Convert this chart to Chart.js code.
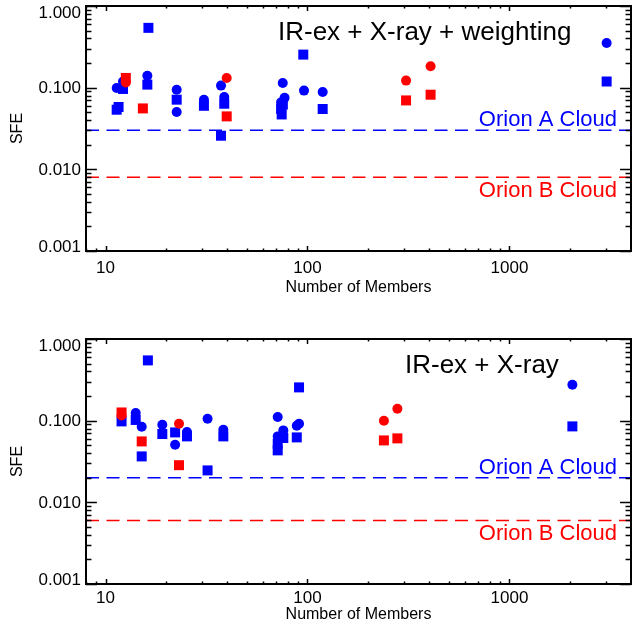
<!DOCTYPE html>
<html>
<head>
<meta charset="utf-8">
<script src="https://cdn.jsdelivr.net/npm/chart.js@4.4.0/dist/chart.umd.min.js"></script>
<style>
  html, body { margin: 0; padding: 0; background: #fff; overflow: hidden; }
  body { width: 632px; height: 627px; position: relative; }
  canvas { position: absolute; left: 0; }
  #top-chart { top: 0; }
  #bottom-chart { top: 333px; }
</style>
</head>
<body>
<canvas id="top-chart" width="632" height="300"></canvas>
<canvas id="bottom-chart" width="632" height="300"></canvas>
<script>
const blue = '#0000ff';
const red = '#ff0000';
const fontFamily = '"Liberation Sans", Arial, Helvetica, sans-serif';

// shared axes
const xRange = [8, 4000];
const yRange = [0.001, 1];
const xTicks = [10, 100, 1000];
const yTicks = [0.001, 0.01, 0.1, 1];

// top panel: IR-ex + X-ray + weighting
const topBlueCircN   = [11.35, 12.2, 16.1, 22.5, 22.5, 30.7, 37.3, 38.7, 75.4, 77, 74, 96.1, 118.9, 3030];
const topBlueCircSFE = [0.099, 0.119, 0.140, 0.0945, 0.0503, 0.0713, 0.106, 0.0769, 0.114, 0.075, 0.066, 0.092, 0.0886, 0.353];
const topBlueSqN     = [16.3, 12.2, 11.35, 11.6, 16.1, 22.5, 30.7, 38.7, 37.3, 75.5, 74, 74.5, 95.3, 118.9, 3030];
const topBlueSqSFE   = [0.540, 0.0964, 0.0537, 0.058, 0.109, 0.0713, 0.060, 0.0636, 0.0258, 0.062, 0.055, 0.047, 0.254, 0.0548, 0.119];
const topRedCircN    = [12.6, 39.8, 307.7, 407];
const topRedCircSFE  = [0.116, 0.1315, 0.122, 0.183];
const topRedSqN      = [12.6, 15.3, 39.8, 307.7, 407];
const topRedSqSFE    = [0.1315, 0.0557, 0.0445, 0.0698, 0.082];
const topOrionA = 0.03;
const topOrionB = 0.008;

// bottom panel: IR-ex + X-ray
const botBlueCircN   = [14.1, 15.1, 19.1, 22.1, 25.3, 32.0, 38.3, 71.2, 75.9, 71.2, 90.8, 88.5, 2050];
const botBlueCircSFE = [0.124, 0.0844, 0.0893, 0.0508, 0.0727, 0.1057, 0.0776, 0.111, 0.076, 0.0642, 0.0918, 0.0865, 0.2757];
const botBlueSqN     = [16.2, 12.0, 14.1, 15.1, 19.1, 22.1, 25.3, 32.0, 38.3, 75.9, 71.2, 71.2, 90.8, 88.5, 2050];
const botBlueSqSFE   = [0.547, 0.098, 0.102, 0.0365, 0.0687, 0.0718, 0.0642, 0.0246, 0.0642, 0.0613, 0.0522, 0.0433, 0.2555, 0.0624, 0.0851];
const botRedCircN    = [12.0, 23.1, 239, 278.7];
const botRedCircSFE  = [0.116, 0.0918, 0.100, 0.140];
const botRedSqN      = [12.0, 15.1, 23.1, 239, 278.7];
const botRedSqSFE    = [0.126, 0.0557, 0.0285, 0.0573, 0.0607];
const botOrionA = 0.02;
const botOrionB = 0.006;

const pts = (xs, ys) => xs.map((x, i) => ({ x: x, y: ys[i] }));
const hline = (v) => [{ x: xRange[0], y: v }, { x: xRange[1], y: v }];

// box with inward IDL-style ticks on all four sides, plus y labels
// (IDL nudges the end labels inside the box, so they are drawn here)
const framePlugin = {
  id: 'frame',
  afterDraw(chart) {
    const { ctx, chartArea: a } = chart;
    const xs = chart.scales.x, ys = chart.scales.y;
    const xLen = 0.02 * (a.bottom - a.top);
    const yLen = 0.02 * (a.right - a.left);
    ctx.save();
    ctx.strokeStyle = '#000';
    ctx.lineWidth = 1.5;
    ctx.beginPath();
    for (let e = 0; e <= 3; e++) {
      for (let m = 1; m < 10; m++) {
        const v = m * Math.pow(10, e);
        if (v < xRange[0] || v > xRange[1]) continue;
        const px = Math.round(xs.getPixelForValue(v)) + 0.5;
        const len = m === 1 ? xLen : xLen / 2;
        ctx.moveTo(px, a.bottom); ctx.lineTo(px, a.bottom - len);
        ctx.moveTo(px, a.top); ctx.lineTo(px, a.top + len);
      }
    }
    for (let e = -3; e <= 0; e++) {
      for (let m = 1; m < 10; m++) {
        const v = m * Math.pow(10, e);
        if (v > yRange[1] * 1.0001) continue;
        const py = Math.round(ys.getPixelForValue(v)) + 0.5;
        const len = m === 1 ? yLen : yLen / 2;
        ctx.moveTo(a.left, py); ctx.lineTo(a.left + len, py);
        ctx.moveTo(a.right, py); ctx.lineTo(a.right - len, py);
      }
    }
    ctx.stroke();
    ctx.lineWidth = 2;
    ctx.strokeRect(a.left, a.top, a.right - a.left, a.bottom - a.top);

    ctx.fillStyle = '#000';
    ctx.font = '17px ' + fontFamily;
    ctx.textAlign = 'right';
    ctx.textBaseline = 'middle';
    yTicks.forEach(v => {
      let py = ys.getPixelForValue(v);
      py = Math.min(Math.max(py, a.top + 6), a.bottom - 5);
      ctx.fillText(v.toFixed(3), a.left - 5, py + 1);
    });
    ctx.restore();
  }
};

function makeChart(id, p) {
  const labelPlugin = {
    id: 'labels',
    afterDraw(chart) {
      const { ctx, chartArea: a } = chart;
      const ys = chart.scales.y;
      ctx.save();
      ctx.textBaseline = 'alphabetic';
      ctx.fillStyle = '#000';
      ctx.font = '26px ' + fontFamily;
      ctx.textAlign = 'left';
      ctx.fillText(p.title, p.titleX, a.top + 34);
      ctx.font = '22px ' + fontFamily;
      ctx.textAlign = 'right';
      ctx.fillStyle = blue;
      ctx.fillText('Orion A Cloud', a.right - 14, ys.getPixelForValue(p.orionA) - 4);
      ctx.fillStyle = red;
      ctx.fillText('Orion B Cloud', a.right - 14, ys.getPixelForValue(p.orionB) + 20);
      ctx.restore();
    }
  };

  const zeroPad = (s) => { s.paddingTop = 0; s.paddingBottom = 0; s.paddingLeft = 0; s.paddingRight = 0; };

  return new Chart(document.getElementById(id), {
    type: 'scatter',
    data: {
      datasets: [
        { data: pts(p.redSqN, p.redSqSFE), pointStyle: 'rect', pointRadius: 7.07, backgroundColor: red, borderWidth: 0, order: 1 },
        { data: pts(p.redCircN, p.redCircSFE), pointStyle: 'circle', pointRadius: 5, backgroundColor: red, borderWidth: 0, order: 2 },
        { data: pts(p.blueSqN, p.blueSqSFE), pointStyle: 'rect', pointRadius: 7.07, backgroundColor: blue, borderWidth: 0, order: 3 },
        { data: pts(p.blueCircN, p.blueCircSFE), pointStyle: 'circle', pointRadius: 5, backgroundColor: blue, borderWidth: 0, order: 4 },
        { type: 'line', data: hline(p.orionA), borderColor: blue, borderWidth: 1.5, borderDash: [13, 7.5], pointRadius: 0, order: 5 },
        { type: 'line', data: hline(p.orionB), borderColor: red, borderWidth: 1.5, borderDash: [13, 7.5], pointRadius: 0, order: 6 },
      ]
    },
    options: {
      responsive: false,
      animation: false,
      devicePixelRatio: 1,
      layout: { autoPadding: false, padding: { top: 6, right: 1, left: 0, bottom: 0 } },
      plugins: { legend: { display: false }, tooltip: { enabled: false } },
      scales: {
        x: {
          type: 'logarithmic',
          min: xRange[0],
          max: xRange[1],
          afterBuildTicks: (s) => { s.ticks = xTicks.map(v => ({ value: v })); },
          afterFit: (s) => { s.height = 49; zeroPad(s); },
          grid: { display: false, drawTicks: false },
          border: { display: false },
          ticks: {
            color: '#000', font: { family: fontFamily, size: 17 }, padding: p.xTickPad,
            maxRotation: 0, autoSkip: false, callback: (v) => String(v)
          },
          title: {
            display: true, text: 'Number of Members', color: '#000',
            font: { family: fontFamily, size: 16 }, padding: { top: 0, bottom: p.xTitlePad }
          }
        },
        y: {
          type: 'logarithmic',
          min: yRange[0],
          max: yRange[1],
          afterBuildTicks: (s) => { s.ticks = yTicks.map(v => ({ value: v })); },
          afterFit: (s) => { s.width = 86; zeroPad(s); },
          grid: { display: false, drawTicks: false },
          border: { display: false },
          ticks: { display: false },
          title: {
            display: true, text: 'SFE', color: '#000',
            font: { family: fontFamily, size: 16 }, padding: { top: 8, bottom: 0 }
          }
        }
      }
    },
    plugins: [framePlugin, labelPlugin]
  });
}

makeChart('top-chart', {
  title: 'IR-ex + X-ray + weighting', titleX: 278,
  blueCircN: topBlueCircN, blueCircSFE: topBlueCircSFE,
  blueSqN: topBlueSqN, blueSqSFE: topBlueSqSFE,
  redCircN: topRedCircN, redCircSFE: topRedCircSFE,
  redSqN: topRedSqN, redSqSFE: topRedSqSFE,
  orionA: topOrionA, orionB: topOrionB,
  xTickPad: 7.5, xTitlePad: 3
});

makeChart('bottom-chart', {
  title: 'IR-ex + X-ray', titleX: 405,
  blueCircN: botBlueCircN, blueCircSFE: botBlueCircSFE,
  blueSqN: botBlueSqN, blueSqSFE: botBlueSqSFE,
  redCircN: botRedCircN, redCircSFE: botRedCircSFE,
  redSqN: botRedSqN, redSqSFE: botRedSqSFE,
  orionA: botOrionA, orionB: botOrionB,
  xTickPad: 4.5, xTitlePad: 9
});
</script>
</body>
</html>
